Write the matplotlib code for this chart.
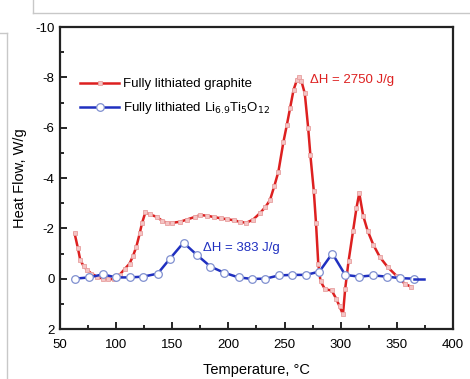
import matplotlib
matplotlib.use("Agg")
import matplotlib.pyplot as plt
from matplotlib.lines import Line2D
from matplotlib.ticker import MultipleLocator

plt.rcParams['font.family'] = ['Liberation Sans', 'DejaVu Sans']
plt.rcParams['axes.unicode_minus'] = False

# Fully lithiated graphite (red)
graphite_T = [63, 66, 68, 71, 74, 78, 83, 88, 93, 98, 103, 108, 112, 115, 118, 121, 123, 126,
              130, 136, 141, 145, 150, 157, 163, 170, 175, 181, 187, 193, 199, 205, 210, 216,
              222, 228, 233, 237, 241, 244.5, 249, 252, 255, 258, 261, 263, 265, 268, 271, 273,
              276, 278, 280, 282, 286, 292, 296, 299, 302, 304, 307, 311, 314, 316.5, 320, 324,
              329, 335, 342, 350, 357, 363]
graphite_H = [-1.8, -1.2, -0.75, -0.5, -0.35, -0.2, -0.08, 0.0, 0.02, 0.02, -0.15, -0.4, -0.6,
              -0.9, -1.27, -1.8, -2.2, -2.63, -2.55, -2.46, -2.3, -2.22, -2.22, -2.26, -2.35,
              -2.45, -2.53, -2.5, -2.45, -2.4, -2.36, -2.32, -2.26, -2.22, -2.35, -2.6, -2.85,
              -3.12, -3.7, -4.25, -5.44, -6.1, -6.8, -7.5, -7.9, -8.0, -7.85, -7.36, -6.0, -4.9,
              -3.5, -2.2, -0.6, 0.1, 0.42, 0.47, 0.8, 1.1, 1.42, 0.4, -0.7, -1.9, -2.8, -3.4,
              -2.5, -1.9, -1.35, -0.85, -0.45, -0.1, 0.2, 0.33]

# Fully lithiated Li6.9Ti5O12 (blue)
lto_T = [63, 76, 88, 100, 112, 124, 137, 148, 160, 172, 184, 196, 209, 221, 233, 245, 257, 269,
         281, 292.5, 304, 316.5, 329, 341, 353, 365, 374]
lto_H = [0.0, -0.05, -0.17, -0.05, -0.05, -0.08, -0.2, -0.8, -1.43, -0.94, -0.48, -0.24, -0.05,
         0.01, 0.0, -0.13, -0.15, -0.15, -0.28, -1.0, -0.15, -0.08, -0.13, -0.08, -0.02, 0.0, 0.0]

xticks = [50, 100, 150, 200, 250, 300, 350, 400]
yticks = [-10, -8, -6, -4, -2, 0, 2]

fig = plt.figure(figsize=(4.70, 3.79), dpi=100)
ax = fig.add_axes([60/470, 1-329/379, (453-60)/470, (329-27)/379])

red = '#dd2020'
blue = '#2030c0'
ax.plot(graphite_T, graphite_H, color=red, lw=1.8, marker='s', ms=3.5,
        mfc='#f4c4c4', mec='#e8a0a0', mew=0.6, label='Fully lithiated graphite', zorder=3)
ax.plot(lto_T[:-1], lto_H[:-1], color=blue, lw=1.8, marker='o', ms=5.5,
        mfc='white', mec='#8090d0', mew=0.9, zorder=4,
        label='Fully lithiated Li$_{6.9}$Ti$_5$O$_{12}$')
ax.plot(lto_T[-2:], lto_H[-2:], color=blue, lw=1.8, zorder=4)

ax.set_xlim(50, 400)
ax.set_ylim(2, -10)
ax.set_xticks(xticks)
ax.set_yticks(yticks)
ax.xaxis.set_minor_locator(MultipleLocator(25))
ax.yaxis.set_minor_locator(MultipleLocator(1))
ax.tick_params(which='both', direction='in', top=False, right=False, labelsize=9.5, width=1.2)
ax.tick_params(which='major', length=5)
ax.tick_params(which='minor', length=3)
ax.tick_params(axis='x', pad=7)
ax.tick_params(axis='y', pad=4)
for s in ax.spines.values():
    s.set_linewidth(1.6)
    s.set_color('#222222')

ax.set_xlabel('Temperature, °C', fontsize=10.5, labelpad=9)
ax.set_ylabel('Heat Flow, W/g', fontsize=10.5, labelpad=6)

leg = ax.legend(loc='upper left', bbox_to_anchor=(0.02, 0.87), frameon=False, fontsize=9.5,
                handlelength=3.0, handletextpad=0.3, labelspacing=0.75)

ax.text(272.5, -7.9, 'ΔH = 2750 J/g', color=red, fontsize=9.5, va='center', ha='left')
ax.text(177, -1.2, 'ΔH = 383 J/g', color=blue, fontsize=9.5, va='center', ha='left')

# screenshot frame artifacts
gray = '#c8c8c8'
fig.add_artist(Line2D([33/470, 1.0], [1-13/379, 1-13/379], color=gray, lw=1.0))
fig.add_artist(Line2D([33/470, 33/470], [1-13/379, 1.0], color=gray, lw=1.0))
fig.add_artist(Line2D([7/470, 7/470], [0, 1-33/379], color=gray, lw=1.0))
fig.add_artist(Line2D([0, 7/470], [1-33/379, 1-33/379], color=gray, lw=1.0))

fig.savefig('out.png', dpi=100)
